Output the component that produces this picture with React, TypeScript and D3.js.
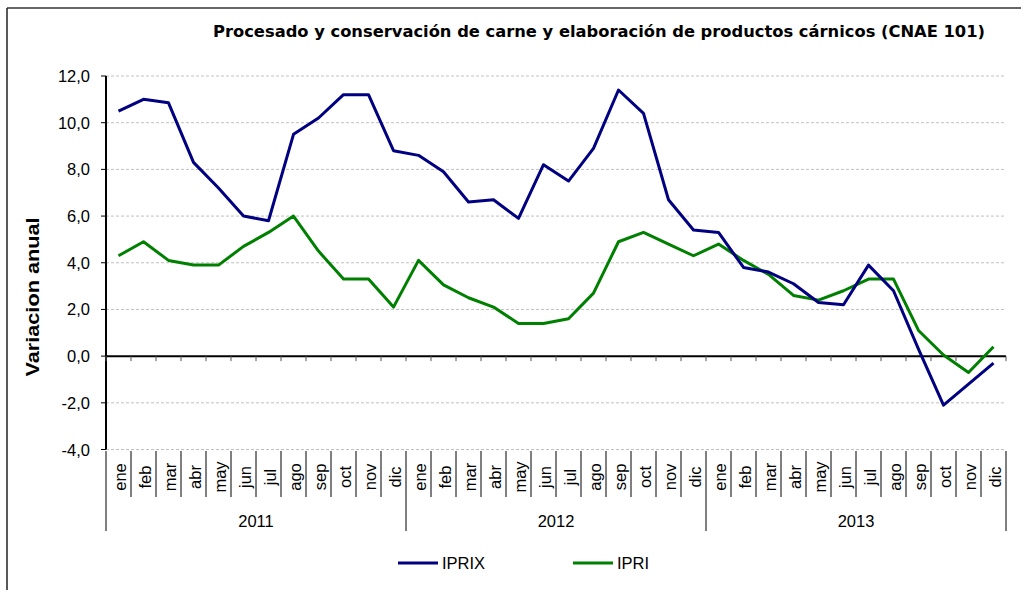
import React from "react";
import * as d3 from "d3";

const months = ["ene","feb","mar","abr","may","jun","jul","ago","sep","oct","nov","dic"];
const years = ["2011","2012","2013"];
const iprix = [10.5,11.0,10.85,8.3,7.2,6.0,5.8,9.5,10.2,11.2,11.2,8.8,
  8.6,7.9,6.6,6.7,5.9,8.2,7.5,8.9,11.4,10.4,6.7,5.4,
  5.3,3.8,3.6,3.1,2.3,2.2,3.9,2.8,0.3,-2.1,-1.2,-0.3];
const ipri = [4.3,4.9,4.1,3.9,3.9,4.7,5.3,6.0,4.5,3.3,3.3,2.1,
  4.1,3.05,2.5,2.1,1.4,1.4,1.6,2.7,4.9,5.3,4.8,4.3,
  4.8,4.1,3.5,2.6,2.4,2.8,3.3,3.3,1.1,0.05,-0.7,0.4];
const yTicks = [12,10,8,6,4,2,0,-2,-4];
const title = "Procesado y conservación de carne y elaboración de productos cárnicos (CNAE 101)";

export default function App() {
  const W = 1021, H = 590;
  const left = 106, right = 1006, top = 76, bottom = 449.5;
  const cats = years.flatMap(y => months.map(m => `${m}-${y}`));
  const x = d3.scaleBand().domain(cats).range([left, right]);
  const y = d3.scaleLinear().domain([-4, 12]).range([bottom, top]);
  const line = d3.line<number>().x((_, i) => (x(cats[i]) as number) + x.bandwidth() / 2).y(d => y(d));
  const font = "'Liberation Sans', Arial, sans-serif";
  const bw = x.bandwidth();
  const fmt = (t: number) => d3.format(".1f")(t).replace(".", ",").replace("\u2212", "-");
  return (
    <svg width={W} height={H} style={{ position: "absolute", left: 0, top: 0, background: "#fff" }}>
      <rect x={0} y={0} width={W} height={H} fill="#fff" />
      <line x1={7} y1={8} x2={W} y2={8} stroke="#333" strokeWidth={1.5} />
      <line x1={7} y1={8} x2={7} y2={H} stroke="#222" strokeWidth={1.5} />
      <text x={213} y={37} fontFamily="'DejaVu Sans Condensed', 'DejaVu Sans', sans-serif" fontWeight="bold" fontSize={15}
        textLength={772} lengthAdjust="spacingAndGlyphs">{title}</text>
      {yTicks.map(t => (
        <g key={t}>
          {t !== 0 && <line x1={left} x2={right} y1={y(t)} y2={y(t)} stroke="#c0c0c0" strokeWidth={1} strokeDasharray="3,2" />}
          <line x1={left - 5} x2={left} y1={y(t)} y2={y(t)} stroke="#000" strokeWidth={1} />
          <text x={90} y={y(t)} textAnchor="end" dominantBaseline="central" fontFamily={font} fontSize={16.5}>
            {fmt(t)}
          </text>
        </g>
      ))}
      <line x1={left} x2={left} y1={top} y2={bottom} stroke="#000" strokeWidth={2} />
      <line x1={left} x2={right} y1={y(0)} y2={y(0)} stroke="#000" strokeWidth={2} />
      {cats.map((c) => (
        <line key={"t" + c} x1={x(c) as number} x2={x(c) as number} y1={y(0)} y2={y(0) + 5} stroke="#555" strokeWidth={1} />
      ))}
      <line x1={right} x2={right} y1={y(0)} y2={y(0) + 5} stroke="#555" strokeWidth={1} />
      <text transform={`translate(32,297) rotate(-90)`} textAnchor="middle" dominantBaseline="central"
        fontFamily={font} fontWeight="bold" fontSize={19} textLength={159} lengthAdjust="spacingAndGlyphs">Variacion anual</text>
      {cats.map((c, i) => {
        const xs = x(c) as number;
        const isYear = i % 12 === 0;
        return (
          <g key={c}>
            <line x1={xs} x2={xs} y1={451} y2={isYear ? 531 : 497} stroke="#000" strokeWidth={1} />
            <text transform={`translate(${xs + bw / 2 + 1},${477}) rotate(-90)`} textAnchor="middle" dominantBaseline="central"
              fontFamily={font} fontSize={16.5}>{c.split("-")[0]}</text>
          </g>
        );
      })}
      <line x1={right} x2={right} y1={451} y2={531} stroke="#000" strokeWidth={1} />
      {years.map((yr) => (
        <text key={yr} x={(x(`${months[0]}-${yr}`) as number) + bw * 6} y={521} textAnchor="middle" dominantBaseline="central"
          fontFamily={font} fontSize={16.5}>{yr}</text>
      ))}
      <path d={line(ipri) || ""} fill="none" stroke="#008000" strokeWidth={3} strokeLinejoin="round" />
      <path d={line(iprix) || ""} fill="none" stroke="#000080" strokeWidth={3} strokeLinejoin="round" />
      <line x1={398} x2={438} y1={563} y2={563} stroke="#000080" strokeWidth={3} />
      <text x={442} y={563} dominantBaseline="central" fontFamily={font} fontSize={16.5}>IPRIX</text>
      <line x1={573} x2={613} y1={563} y2={563} stroke="#008000" strokeWidth={3} />
      <text x={617} y={563} dominantBaseline="central" fontFamily={font} fontSize={16.5}>IPRI</text>
    </svg>
  );
}
